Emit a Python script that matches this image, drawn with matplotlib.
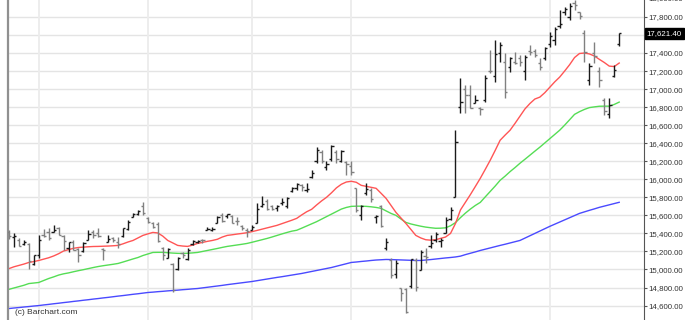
import matplotlib
matplotlib.use("Agg")
import matplotlib.pyplot as plt
import matplotlib.transforms as mtransforms
from matplotlib.ticker import FuncFormatter, FixedLocator

# daily OHLC bars, Jun 23 - Dec 19
opens = [15420, 15360, 15330, 15280, 15280, 15060, 15160, 15380, 15420, 15420,
         15460, 15370, 15240, 15300, 15230, 15200, 15330, 15420, 15400, 15230,
         15300, 15350, 15300, 15370, 15450, 15580, 15610, 15700, 15570, 15510,
         15500, 15240, 15130, 15060, 15000, 15180, 15120, 15280, 15300, 15330,
         15440, 15440, 15520, 15600, 15590, 15590, 15540, 15480, 15440, 15440,
         15520, 15700, 15760, 15700, 15680, 15740, 15700, 15870, 15900, 15940,
         15880, 16020, 16200, 16300, 16140, 16220, 16300, 16200, 16190, 16150,
         15900, 15600, 15850, 15880, 15580, 15700, 15240, 15100, 14950, 14790,
         14780, 14820, 15100, 14990, 15150, 15260, 15330, 15320, 15400, 15560,
         15800, 16800, 17000, 16940, 16850, 16790, 16880, 17200, 17150, 17400,
         17300, 17250, 17300, 17350, 17200, 17420, 17420, 17290, 17340, 17500,
         17550, 17700, 17850, 17800, 17950, 17850, 17620, 17100, 17400, 17200,
         16880, 16720, 17150, 17500]
highs = [15440, 15400, 15345, 15330, 15290, 15165, 15378, 15445, 15456, 15490,
         15467, 15378, 15300, 15322, 15233, 15300, 15433, 15433, 15456, 15233,
         15378, 15356, 15356, 15460, 15544, 15622, 15656, 15744, 15578, 15522,
         15522, 15244, 15240, 15067, 15135, 15189, 15233, 15322, 15322, 15340,
         15467, 15470, 15590, 15622, 15620, 15600, 15578, 15489, 15456, 15489,
         15733, 15811, 15778, 15720, 15720, 15789, 15800, 15911, 15956, 15945,
         15956, 16100, 16356, 16330, 16200, 16380, 16330, 16320, 16200, 16200,
         15900, 15711, 15956, 15900, 15600, 15711, 15344, 15122, 15110, 14800,
         14800, 15115, 15122, 15211, 15233, 15378, 15411, 15344, 15578, 15689,
         16544, 17122, 17044, 17044, 16933, 16800, 17156, 17433, 17544, 17522,
         17400, 17356, 17411, 17378, 17378, 17489, 17440, 17344, 17467, 17633,
         17689, 17878, 17911, 17956, 17989, 17860, 17656, 17289, 17522, 17244,
         16900, 16900, 17267, 17622]
lows = [15340, 15245, 15255, 15270, 15010, 15045, 15122, 15356, 15322, 15411,
        15378, 15211, 15190, 15211, 15078, 15190, 15322, 15344, 15356, 15100,
        15300, 15300, 15233, 15356, 15433, 15578, 15600, 15600, 15511, 15456,
        15300, 15100, 15122, 14753, 14989, 15122, 15100, 15267, 15290, 15290,
        15433, 15430, 15511, 15530, 15567, 15511, 15489, 15433, 15356, 15433,
        15511, 15689, 15656, 15656, 15650, 15711, 15680, 15856, 15878, 15870,
        15860, 16011, 16178, 16178, 16100, 16200, 16180, 16190, 16044, 16044,
        15633, 15544, 15822, 15744, 15511, 15467, 15211, 14911, 14911, 14656,
        14522, 14800, 14767, 14989, 15067, 15233, 15300, 15244, 15400, 15544,
        15800, 16733, 16733, 16790, 16844, 16711, 16856, 17178, 17078, 17300,
        16900, 17189, 17280, 17260, 17100, 17378, 17360, 17211, 17322, 17467,
        17489, 17678, 17822, 17767, 17878, 17780, 17300, 17044, 17289, 17022,
        16711, 16678, 17133, 17478]
closes = [15369, 15376, 15266, 15308, 15095, 15162, 15326, 15369, 15348, 15437,
          15379, 15314, 15302, 15216, 15164, 15296, 15395, 15379, 15370, 15215,
          15343, 15328, 15284, 15457, 15529, 15618, 15646, 15621, 15523, 15474,
          15320, 15160, 15232, 14778, 15130, 15161, 15213, 15314, 15318, 15322,
          15449, 15454, 15586, 15539, 15613, 15521, 15534, 15459, 15424, 15476,
          15668, 15728, 15676, 15668, 15705, 15749, 15788, 15909, 15948, 15911,
          15888, 16067, 16321, 16205, 16167, 16374, 16229, 16310, 16173, 16082,
          15661, 15708, 15890, 15783, 15595, 15478, 15300, 14936, 15073, 14738,
          14532, 15111, 14804, 15195, 15138, 15291, 15388, 15330, 15553, 15658,
          16413, 16862, 16937, 16792, 16880, 16781, 17124, 17197, 17392, 17490,
          16973, 17344, 17288, 17300, 17357, 17407, 17383, 17248, 17459, 17590,
          17663, 17720, 17887, 17920, 17935, 17813, 17412, 17257, 17371, 17099,
          16755, 16819, 17210, 17621]

# moving averages (red, green, blue) per bar
ma_red = [15010, 15030, 15045, 15060, 15078, 15088, 15100, 15115, 15130, 15150,
          15175, 15205, 15220, 15235, 15244, 15248, 15252, 15255, 15256, 15258,
          15260, 15263, 15267, 15285, 15305, 15322, 15350, 15378, 15395, 15411,
          15405, 15370, 15322, 15295, 15267, 15260, 15256, 15270, 15289, 15300,
          15312, 15322, 15335, 15360, 15378, 15385, 15393, 15400, 15408, 15420,
          15433, 15447, 15461, 15475, 15489, 15508, 15527, 15546, 15567, 15605,
          15640, 15667, 15715, 15760, 15800, 15850, 15905, 15945, 15970, 15978,
          15967, 15933, 15922, 15911, 15900, 15845, 15789, 15711, 15633, 15572,
          15511, 15445, 15378, 15350, 15330, 15325, 15330, 15345, 15360, 15400,
          15510, 15660, 15745, 15830, 15920, 16011, 16110, 16211, 16320, 16433,
          16490, 16544, 16620, 16700, 16780, 16840, 16890, 16911, 16960, 17020,
          17080, 17133, 17200, 17270, 17350, 17395, 17400, 17390, 17367, 17330,
          17295, 17255, 17250, 17289]
ma_green = [14780, 14795, 14810, 14825, 14844, 14850, 14856, 14878, 14900, 14918,
            14938, 14952, 14962, 14975, 14987, 14998, 15010, 15022, 15033, 15042,
            15050, 15058, 15067, 15083, 15100, 15117, 15133, 15155, 15172, 15189,
            15190, 15190, 15186, 15182, 15179, 15178, 15180, 15184, 15189, 15200,
            15211, 15222, 15233, 15245, 15256, 15264, 15272, 15280, 15289, 15302,
            15316, 15330, 15344, 15360, 15377, 15394, 15410, 15425, 15435, 15458,
            15482, 15506, 15530, 15558, 15586, 15614, 15642, 15670, 15688, 15700,
            15702, 15702, 15700, 15695, 15688, 15678, 15650, 15622, 15600, 15560,
            15522, 15505, 15492, 15480, 15470, 15463, 15457, 15458, 15462, 15485,
            15520, 15575, 15625, 15670, 15710, 15744, 15805, 15865, 15925, 15989,
            16035, 16085, 16130, 16178, 16222, 16267, 16312, 16356, 16403, 16450,
            16497, 16544, 16600, 16660, 16720, 16750, 16775, 16795, 16803, 16810,
            16811, 16811, 16830, 16856]
ma_blue = [14567, 14573, 14578, 14584, 14589, 14595, 14600, 14607, 14613, 14620,
           14626, 14633, 14639, 14646, 14652, 14659, 14665, 14672, 14678, 14685,
           14691, 14698, 14705, 14711, 14718, 14725, 14731, 14738, 14745, 14749,
           14754, 14758, 14763, 14767, 14771, 14776, 14780, 14785, 14789, 14796,
           14803, 14810, 14817, 14824, 14832, 14839, 14846, 14853, 14860, 14867,
           14876, 14885, 14894, 14903, 14912, 14920, 14929, 14938, 14947, 14956,
           14967, 14978, 14989, 15000, 15011, 15022, 15036, 15050, 15064, 15078,
           15083, 15089, 15094, 15100, 15105, 15108, 15111, 15110, 15108, 15106,
           15104, 15102, 15100, 15100, 15105, 15110, 15116, 15122, 15128, 15133,
           15139, 15148, 15165, 15180, 15195, 15211, 15225, 15239, 15253, 15267,
           15280, 15294, 15308, 15322, 15348, 15374, 15400, 15426, 15452, 15478,
           15502, 15526, 15550, 15574, 15598, 15622, 15639, 15656, 15672, 15689,
           15703, 15717, 15731, 15745]

# first bar of each month (Nov line not drawn on the original)
month_starts = [6, 28, 49, 69, 109]
last_price = 17621.40
price_ticks = list(range(14600, 18001, 200))

fig = plt.figure(figsize=(6.85, 3.2), dpi=100)
ax = fig.add_axes([8 / 685, 0, 636 / 685, 1])
ax.set_xlim(-0.2, 128.0)
ax.set_ylim(14440, 17988)

# grid
for v in price_ticks:
    ax.axhline(v, color="#e4e4e4", lw=1.0, zorder=0)
for m in month_starts:
    ax.axvline(m, color="#ececec", lw=1.3, zorder=0)

# moving averages
idx = list(range(len(closes)))
ax.plot(idx, ma_blue, color="#4a4aff", lw=1.0, zorder=2)
ax.plot(idx, ma_green, color="#55dd55", lw=1.0, zorder=2)
ax.plot(idx, ma_red, color="#ff5555", lw=1.0, zorder=2)

# OHLC bars
for i in idx:
    c = "#1a1a1a" if closes[i] >= opens[i] else "#808080"
    ax.vlines(i, lows[i], highs[i], color=c, lw=1.0, zorder=3)
    ax.hlines(opens[i], i - 0.45, i, color=c, lw=1.0, zorder=3)
    ax.hlines(closes[i], i, i + 0.45, color=c, lw=1.0, zorder=3)

# axes styling
for s in ["top", "bottom"]:
    ax.spines[s].set_visible(False)
ax.spines["left"].set_color("#909090")
ax.spines["left"].set_linewidth(1.6)
ax.spines["right"].set_color("#555555")
ax.spines["right"].set_linewidth(0.8)
ax.set_xticks([])
ax.yaxis.tick_right()
ax.yaxis.set_major_locator(FixedLocator(price_ticks))
# the 17,600 label sits under the last-price box
ax.yaxis.set_major_formatter(
    FuncFormatter(lambda v, p: "" if abs(v - 17600) < 1 else f"{v:,.2f}"))
ax.tick_params(axis="y", length=2.2, width=0.8, color="#555555", pad=0.6,
               labelsize=5.7, labelcolor="#333333")
for lab in ax.get_yticklabels():
    lab.set_fontfamily("Liberation Sans")

trans = mtransforms.blended_transform_factory(ax.transAxes, ax.transData)
# top label is cut by the image edge in the original
ax.text(1.0062, 18000, f"{18000:,.2f}", transform=trans, ha="left",
        va="center", fontsize=5.7, family="Liberation Sans",
        color="#333333", clip_on=False)

# last price box
ax.text(1.004, last_price, f"{last_price:,.2f}", transform=trans,
        ha="left", va="center", color="white", fontsize=5.7,
        family="Liberation Sans", zorder=10,
        bbox=dict(boxstyle="square,pad=0.25", fc="black", ec="black"))

fig.text(15 / 685, 7 / 320, "(c) Barchart.com", fontsize=6,
         family="Liberation Sans", color="#333333", ha="left", va="center")

fig.savefig("out.png", dpi=100, facecolor="white")
